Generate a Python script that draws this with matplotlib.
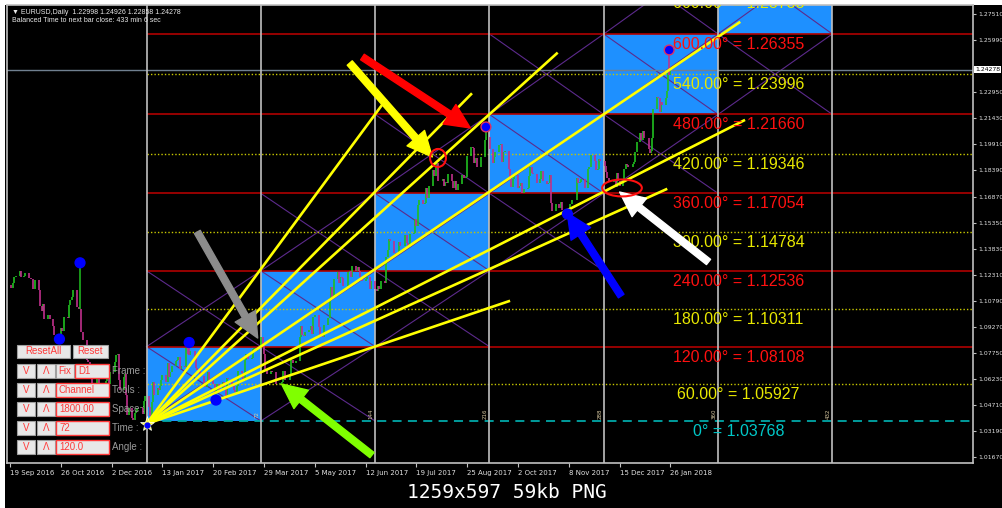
import numpy as np
import pandas as pd
import matplotlib
matplotlib.use('Agg')
import matplotlib.pyplot as plt
from matplotlib.patches import Rectangle, Ellipse
from matplotlib.transforms import blended_transform_factory

# gann grid levels: degrees -> price
degrees = [0, 60, 120, 180, 240, 300, 360, 420, 480, 540, 600, 660, 720]
levels = [1.03768, 1.05927, 1.08108, 1.10311, 1.12536, 1.14784, 1.17054,
          1.19346, 1.21660, 1.23996, 1.26355, 1.28738, 1.31143]

# time axis (MT4 labels every 32 bars)
tick_labels = ['19 Sep 2016', '26 Oct 2016', '2 Dec 2016', '13 Jan 2017', '20 Feb 2017',
               '29 Mar 2017', '5 May 2017', '12 Jun 2017', '19 Jul 2017', '25 Aug 2017',
               '2 Oct 2017', '8 Nov 2017', '15 Dec 2017', '26 Jan 2018']
tick_bars = [0, 32, 64, 96, 128, 160, 192, 224, 256, 288, 320, 352, 384, 416]

price_ticks = [1.27510, 1.25990, 1.22950, 1.21430, 1.19910, 1.18390, 1.16870, 1.15350,
               1.13830, 1.12310, 1.10790, 1.09270, 1.07750, 1.06230, 1.04710, 1.03190, 1.01670]
last_price = 1.24278

# daily closes EURUSD, Mon..Fri from 19 Sep 2016
closes_2016 = [1.1170, 1.1155, 1.1185, 1.1215, 1.1225, 1.1255, 1.1215, 1.1220, 1.1225, 1.1240,
               1.1210, 1.1205, 1.1205, 1.1150, 1.1200, 1.1140, 1.1050, 1.1020, 1.1060, 1.0970,
               1.0995, 1.0975, 1.0975, 1.0930, 1.0880, 1.0880, 1.0885, 1.0920, 1.0900, 1.0985,
               1.0980, 1.1055, 1.1085, 1.1100, 1.1140, 1.1045, 1.1030, 1.1030, 1.0895, 1.0850,
               1.0730, 1.0720, 1.0690, 1.0625, 1.0590, 1.0630, 1.0635, 1.0550, 1.0555, 1.0590,
               1.0610, 1.0650, 1.0590, 1.0665, 1.0665, 1.0720, 1.0760, 1.0765, 1.0615, 1.0560,
               1.0635, 1.0650, 1.0530, 1.0410, 1.0450, 1.0395, 1.0380, 1.0425, 1.0435, 1.0455,
               1.0460, 1.0455, 1.0415, 1.0495, 1.0520]
closes_2017 = [1.0460, 1.0405, 1.0490, 1.0605, 1.0530, 1.0570, 1.0555, 1.0580, 1.0615, 1.0645,
               1.0605, 1.0715, 1.0635, 1.0665, 1.0700, 1.0725, 1.0735, 1.0750, 1.0680, 1.0695,
               1.0690, 1.0800, 1.0765, 1.0760, 1.0785, 1.0750, 1.0685, 1.0675, 1.0670, 1.0640,
               1.0600, 1.0575, 1.0605, 1.0665, 1.0615, 1.0590, 1.0540, 1.0555, 1.0590, 1.0560,
               1.0605, 1.0575, 1.0520, 1.0625, 1.0620, 1.0580, 1.0560, 1.0545, 1.0580, 1.0670,
               1.0655, 1.0610, 1.0735, 1.0765, 1.0740, 1.0745, 1.0795, 1.0800, 1.0785, 1.0800,
               1.0865, 1.0815, 1.0765, 1.0680, 1.0650, 1.0670, 1.0665, 1.0660, 1.0660, 1.0590,
               1.0600, 1.0605, 1.0670, 1.0615, 1.0615, 1.0640, 1.0730, 1.0715, 1.0715, 1.0725,
               1.0865, 1.0930, 1.0880, 1.0875, 1.0895, 1.0905, 1.0930, 1.0885, 1.0985, 1.0995,
               1.0925, 1.0875, 1.0875, 1.0865, 1.0935, 1.0980, 1.1095, 1.1160, 1.1100, 1.1205,
               1.1245, 1.1180, 1.1215, 1.1210, 1.1165, 1.1165, 1.1245, 1.1250, 1.1215, 1.1280,
               1.1250, 1.1275, 1.1255, 1.1215, 1.1195, 1.1205, 1.1215, 1.1220, 1.1150, 1.1195,
               1.1150, 1.1135, 1.1165, 1.1150, 1.1195, 1.1180, 1.1335, 1.1375, 1.1440, 1.1425,
               1.1360, 1.1345, 1.1355, 1.1420, 1.1400, 1.1400, 1.1465, 1.1415, 1.1395, 1.1470,
               1.1475, 1.1555, 1.1515, 1.1635, 1.1665, 1.1645, 1.1650, 1.1735, 1.1680, 1.1750,
               1.1840, 1.1805, 1.1860, 1.1885, 1.1775, 1.1790, 1.1750, 1.1770, 1.1765, 1.1820,
               1.1780, 1.1735, 1.1775, 1.1725, 1.1760, 1.1810, 1.1815, 1.1795, 1.1800, 1.1925,
               1.1975, 1.1970, 1.1885, 1.1910, 1.1860, 1.1915, 1.1920, 1.1915, 1.2015, 1.2035,
               1.1965, 1.1965, 1.1885, 1.1920, 1.1945, 1.1985, 1.1995, 1.1890, 1.1945, 1.1950,
               1.1845, 1.1790, 1.1745, 1.1790, 1.1815, 1.1735, 1.1750, 1.1765, 1.1710, 1.1730,
               1.1735, 1.1805, 1.1860, 1.1825, 1.1820, 1.1765, 1.1765, 1.1790, 1.1835, 1.1780,
               1.1760, 1.1765, 1.1810, 1.1650, 1.1605, 1.1645, 1.1645, 1.1620, 1.1655, 1.1610,
               1.1585, 1.1595, 1.1590, 1.1645, 1.1665, 1.1665, 1.1795, 1.1765, 1.1770, 1.1790,
               1.1735, 1.1735, 1.1850, 1.1860, 1.1930, 1.1895, 1.1840, 1.1845, 1.1905, 1.1895,
               1.1865, 1.1830, 1.1795, 1.1770, 1.1770, 1.1780, 1.1745, 1.1825, 1.1780, 1.1750,
               1.1780, 1.1845, 1.1875, 1.1870, 1.1860, 1.1860, 1.1875, 1.1890, 1.1945, 1.2005]
closes_2018 = [1.2060, 1.2015, 1.2070, 1.2030, 1.2030, 1.1965, 1.1940, 1.1950, 1.2030, 1.2200,
               1.2265, 1.2260, 1.2180, 1.2240, 1.2220, 1.2260, 1.2300, 1.2410, 1.2395, 1.2428]

# marked swing points (blue dots)
dot_dates = ['2016-10-25', '2016-11-09', '2017-02-02', '2017-02-22', '2017-09-08', '2017-11-07', '2018-01-25']
dot_prices = [1.0855, 1.1300, 1.0835, 1.0499, 1.2093, 1.1585, 1.2542]

# gann setup
box_start = 86
box_bars = 72
fan_origin = 1.0360
fan_ratios = [2, 1.5, 4 / 3, 1, 0.75, 2 / 3, 0.5]
fan_end_bars = [237, 291, 345, 460, 463, 414, 315]

# hand drawn markup (bar, price)
arrow_colors = ['#ffff00', '#ff0000', '#8c8c8c', '#80ff00', '#0000ff', '#ffffff']
arrow_tails = [(214, 1.2466), (222, 1.2501), (118, 1.1480), (228, 1.0178), (385, 1.1106), (440, 1.1305)]
arrow_heads = [(266, 1.1918), (290, 1.2087), (156, 1.0861), (171, 1.0593), (351, 1.1591), (384, 1.1713)]
ring_centers = [(269.6, 1.1912), (385.5, 1.1737)]
ring_sizes = [(10, 0.0105), (25, 0.0099)]

closes = np.array(closes_2016 + closes_2017 + closes_2018)
dates = pd.bdate_range('2016-09-19', periods=len(closes))
tick_days = (pd.to_datetime(tick_labels, format='%d %b %Y') - dates[0]).days
bars = np.interp((dates - dates[0]).days, tick_days, tick_bars)

fig = plt.figure(figsize=(10.03, 5.08), dpi=100, facecolor='white')
bg = fig.add_axes([5 / 1003, 0, 998 / 1003, 503 / 508], zorder=-5)
bg.set_facecolor('black')
bg.set_xticks([])
bg.set_yticks([])
for s in bg.spines.values():
    s.set_visible(False)

ax = fig.add_axes([7 / 1003, 45 / 508, 966 / 1003, 458 / 508], zorder=1)
ax.set_facecolor('black')
ax.set_xlim(-1.9, 606.6)
ax.set_ylim(1.01317, 1.28046)

# blue staircase boxes
for k in range(6):
    ax.add_patch(Rectangle((box_start + box_bars * k, levels[2 * k]), box_bars,
                           levels[2 * k + 2] - levels[2 * k], facecolor='#1e90ff',
                           edgecolor='none', zorder=1))

# purple diagonals
for k in range(6):
    for j in range(6):
        if abs(j - k) > 1:
            continue
        x0, x1 = box_start + box_bars * k, box_start + box_bars * (k + 1)
        ax.plot([x0, x1], [levels[2 * j], levels[2 * j + 2]], color='#5c2a8c', lw=0.8, zorder=2)
        ax.plot([x0, x1], [levels[2 * j + 2], levels[2 * j]], color='#5c2a8c', lw=0.8, zorder=2)

# level lines
for deg, lv in zip(degrees, levels):
    if deg == 0:
        ax.hlines(lv, box_start, 606.6, color='#00a8a8', lw=1.3, linestyles=(0, (5, 3.5)), zorder=2)
    elif deg % 120 == 0:
        ax.hlines(lv, box_start, 606.6, color='#b00000', lw=1.2, zorder=2)
    else:
        ax.hlines(lv, box_start, 606.6, color='#c8c800', lw=1.0, linestyles=(0, (1, 1.5)), zorder=2)

for k in range(7):
    ax.axvline(box_start + box_bars * k, color='#c0c0c0', lw=1.2, zorder=2.5)
    if k > 0:
        ax.text(box_start + box_bars * k - 2.5, levels[0] + 0.004, str(box_bars * k), rotation=90,
                fontsize=4, color='#d8c8a0', ha='center', va='center', zorder=5)

ax.axhline(last_price, color='#708090', lw=1, zorder=2)

# candles (open = previous close)
opens = np.r_[closes[0], closes[:-1]]
up = closes >= opens
ax.vlines(bars[up], opens[up], closes[up], color='#20c020', lw=1.2, zorder=3)
ax.vlines(bars[~up], opens[~up], closes[~up], color='#c0308c', lw=1.2, zorder=3)

dot_idx = [dates.get_loc(pd.Timestamp(d)) for d in dot_dates]
for i, p in zip(dot_idx, dot_prices):
    c = '#20c020' if up[i] else '#c0308c'
    ax.vlines(bars[i], closes[i], p, color=c, lw=1.1, zorder=3)
ax.scatter(bars[dot_idx], dot_prices, s=50, color='#0000ff',
           edgecolors=['#0000ff'] * 4 + ['#e03060', '#0000ff', '#e03060'], linewidths=1, zorder=6)

# gann fan
unit = (levels[10] - levels[0]) / (5 * box_bars)
for r, end in zip(fan_ratios, fan_end_bars):
    ax.plot([box_start, end], [fan_origin, fan_origin + r * unit * (end - box_start)],
            color='#ffff00', lw=1.9, solid_capstyle='butt', zorder=4)
ax.plot(box_start, fan_origin, marker='*', ms=11, color='#ffff40', mec='white', mew=0.5, zorder=5)
ax.plot(box_start + 0.5, fan_origin - 0.0005, 'o', ms=3.5, color='#0000ff', zorder=5)

# level labels
for deg, lv in zip(degrees, levels):
    if deg > 660:
        continue
    if deg == 0:
        txt, col = '0° = %.5f' % lv, '#00c8c8'
    elif deg % 120 == 0:
        txt, col = '%.2f° = %.5f' % (deg, lv), '#ff1010'
    else:
        txt, col = '%.2f° = %.5f' % (deg, lv), '#e8e800'
    ax.annotate(txt, (459, lv), xytext=(0, -7.5), textcoords='offset points', ha='center',
                va='center', fontsize=11.5, color=col, family='Liberation Sans',
                annotation_clip=False, clip_on=True, zorder=5)

# markup arrows and rings
for c, t, h in zip(arrow_colors, arrow_tails, arrow_heads):
    ax.annotate('', xy=h, xytext=t, annotation_clip=False, zorder=7,
                arrowprops=dict(arrowstyle='simple,head_length=1.5,head_width=1.4,tail_width=0.4',
                                mutation_scale=12, color=c, shrinkA=0, shrinkB=0))
for (cx, cy), (w, h) in zip(ring_centers, ring_sizes):
    ax.add_patch(Ellipse((cx, cy), w, h, facecolor='none', edgecolor='#ff1010', lw=1.5, zorder=7))

# axes styling
for s in ax.spines.values():
    s.set_color('#c0c0c0')
    s.set_linewidth(1.2)
ax.yaxis.tick_right()
ax.set_yticks(price_ticks)
ax.set_yticklabels(['%.5f' % p for p in price_ticks])
ax.set_xticks(tick_bars)
ax.set_xticklabels(tick_labels, ha='left')
ax.tick_params(axis='both', colors='#c0c0c0', labelcolor='#e0e0e0', labelsize=5, length=3, width=0.8, pad=2)
ax.tick_params(axis='y', labelsize=4.4, length=2.5, pad=1.2)
ax.text(1.002, last_price, '%.5f' % last_price, transform=blended_transform_factory(ax.transAxes, ax.transData),
        fontsize=4.4, color='black', va='center', ha='left',
        bbox=dict(facecolor='white', edgecolor='none', pad=0.8), clip_on=False, zorder=8)

# overlay in pixel units: header, control panel, caption
ov = fig.add_axes([0, 0, 1, 1], zorder=10)
ov.set_xlim(0, 1003)
ov.set_ylim(508, 0)
ov.axis('off')
ov.patch.set_visible(False)

ov.text(12, 12, '▼ EURUSD,Daily  1.22998 1.24926 1.22858 1.24278', fontsize=5, color='#e8e8e8',
        family=['Liberation Sans', 'DejaVu Sans'], va='center')
ov.text(12, 21, 'Balanced Time to next bar close: 433 min 6 sec', fontsize=5, color='#e8e8e8',
        family='Liberation Sans', va='center')

btn_face, btn_edge, red = '#e8e8e8', '#a0a0a0', '#ff3a3a'
for label, x, w in [('ResetAll', 17, 53), ('Reset', 73, 35)]:
    ov.add_patch(Rectangle((x, 345), w, 13, facecolor=btn_face, edgecolor=btn_edge, lw=0.8))
    ov.text(x + w / 2, 351.5, label, color=red, fontsize=7, ha='center', va='center', family='Liberation Sans')

row_y = [364, 383, 402, 421, 440]
row_fields = ['D1', 'Channel', '1800.00', '72', '120.0']
row_names = ['Frame :', 'Tools :', 'Space :', 'Time :', 'Angle :']
for i, (y, fld, name) in enumerate(zip(row_y, row_fields, row_names)):
    for x, t in [(17, 'V'), (37, 'Λ')]:
        ov.add_patch(Rectangle((x, y), 18, 14, facecolor=btn_face, edgecolor=btn_edge, lw=0.8))
        ov.text(x + 9, y + 7, t, color=red, fontsize=7, ha='center', va='center', family='Liberation Sans')
    if i == 0:
        ov.add_patch(Rectangle((56, y), 18, 14, facecolor=btn_face, edgecolor=btn_edge, lw=0.8))
        ov.text(65, y + 7, 'Fix', color=red, fontsize=7, ha='center', va='center', family='Liberation Sans')
        fx, fw = 75, 34
    else:
        fx, fw = 56, 53
    ov.add_patch(Rectangle((fx, y), fw, 14, facecolor=btn_face, edgecolor=red, lw=1))
    ov.text(fx + 3, y + 7, fld, color=red, fontsize=7, ha='left', va='center', family='Liberation Sans')
    ov.text(112, y + 7, name, color='#9a9a9a', fontsize=7, ha='left', va='center', family='Liberation Sans')

ov.text(507, 493, '1259x597 59kb PNG', color='white', fontsize=14, ha='center', va='center',
        family='DejaVu Sans Mono')

fig.savefig('out.png', dpi=100, facecolor='white')
